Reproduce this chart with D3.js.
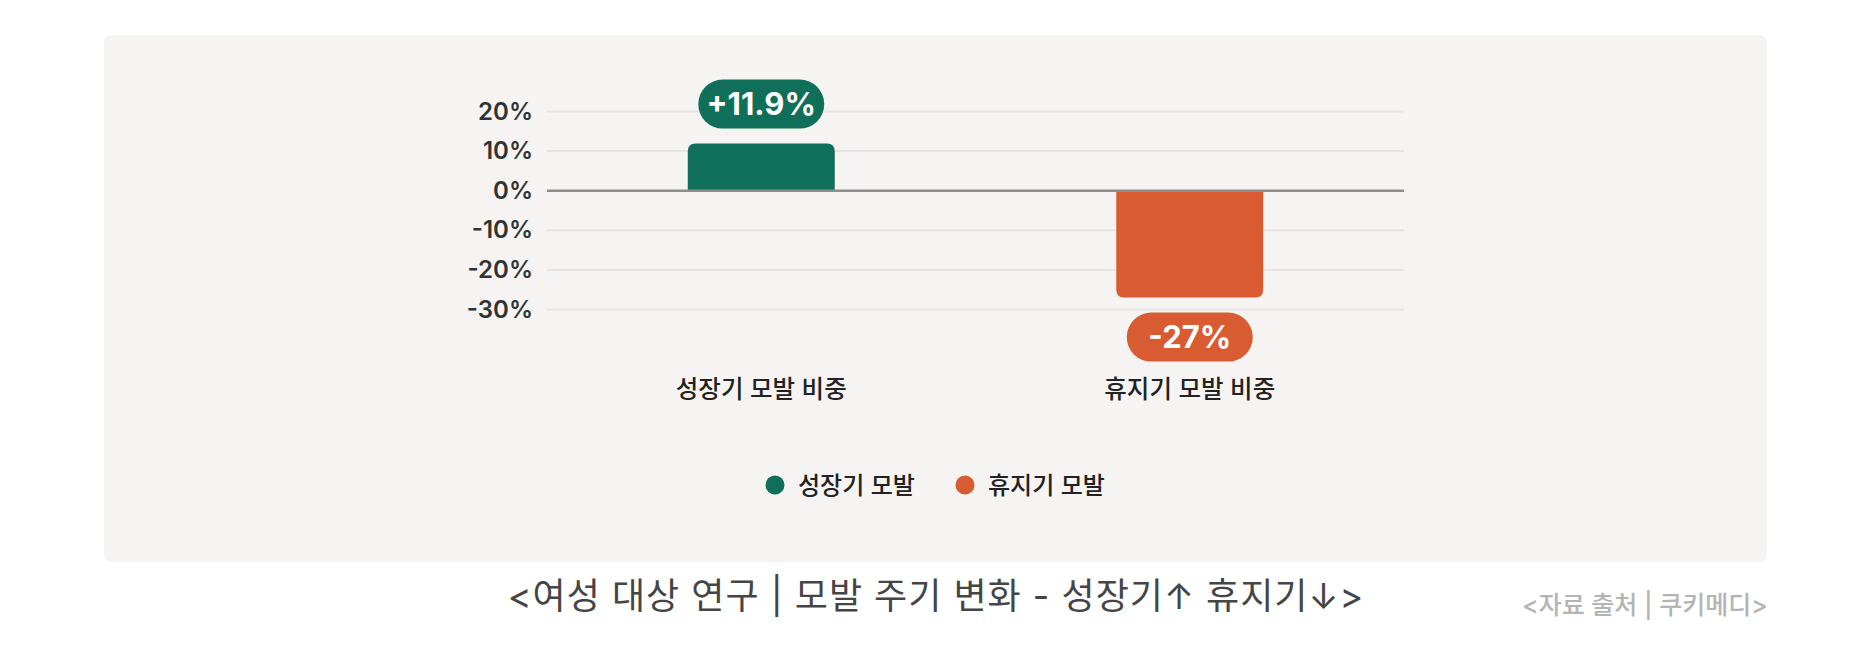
<!DOCTYPE html>
<html>
<head>
<meta charset="utf-8">
<script src="https://cdn.jsdelivr.net/npm/d3@7"></script>
<style>
  body { margin: 0; background: #fff; }
  svg { display: block; font-family: "Inter", "Noto Sans CJK KR", sans-serif; }
</style>
</head>
<body>
<div class="chart"></div>
<script>
// data
const categories = ['성장기 모발 비중', '휴지기 모발 비중'];
const values = [11.9, -27];
const valueLabels = ['+11.9%', '-27%'];
const seriesNames = ['성장기 모발', '휴지기 모발'];
const yTicks = [-30, -20, -10, 0, 10, 20];
const title = '<여성 대상 연구 | 모발 주기 변화 - 성장기↑ 휴지기↓>';
const source = '<자료 출처 | 쿠키메디>';

const W = 1872, H = 671;
const palette = ['#0f6f58', '#d85b31'];

const svg = d3.select('.chart').append('svg')
	.attr('width', W)
	.attr('height', H);

//panel behind the chart
svg.append('rect')
	.attr('x', 104).attr('y', 35)
	.attr('width', 1663).attr('height', 527)
	.attr('rx', 8)
	.style('fill', '#f5f4f2');

const x = d3.scaleBand()
	.domain(categories)
	.range([547, 1404])
	.paddingInner(0.657)
	.paddingOuter(0.3285);

const y = d3.scaleLinear()
	.domain([-30, 20])
	.range([309.5, 111.5]);

const color = d3.scaleOrdinal().domain(categories).range(palette);

//grid
svg.append('g').selectAll('line')
	.data(yTicks.filter(function(d){return d !== 0}))
	.join('line')
	.attr('x1', 547).attr('x2', 1404)
	.attr('y1', function(d){return y(d)})
	.attr('y2', function(d){return y(d)})
	.style('stroke', '#e6e4e1')
	.style('stroke-width', 2);

//y labels
const yAxis = d3.axisLeft(y)
	.tickValues(yTicks)
	.tickFormat(function(d){return d + '%'})
	.tickSize(0)
	.tickPadding(14);
const ya = svg.append('g')
	.attr('transform', 'translate(547,0)')
	.call(yAxis);
ya.select('.domain').remove();
ya.selectAll('text')
	.style('font-family', '"Inter", "Noto Sans CJK KR", sans-serif')
	.style('font-size', '24px')
	.style('font-weight', 600)
	.style('fill', '#333');

//bars, rounded only on the far end
const r = 8;
function barPath(d, i){
	const x0 = x(categories[i]), x1 = x0 + x.bandwidth();
	const y0 = y(0), yv = y(d);
	if (d >= 0) {
		return 'M' + x0 + ',' + y0 + 'V' + (yv + r) + 'Q' + x0 + ',' + yv + ' ' + (x0 + r) + ',' + yv +
			'H' + (x1 - r) + 'Q' + x1 + ',' + yv + ' ' + x1 + ',' + (yv + r) + 'V' + y0 + 'Z';
	}
	return 'M' + x0 + ',' + y0 + 'V' + (yv - r) + 'Q' + x0 + ',' + yv + ' ' + (x0 + r) + ',' + yv +
		'H' + (x1 - r) + 'Q' + x1 + ',' + yv + ' ' + x1 + ',' + (yv - r) + 'V' + y0 + 'Z';
}
svg.append('g').selectAll('path')
	.data(values)
	.join('path')
	.attr('d', barPath)
	.style('fill', function(d, i){return color(categories[i])});

//zero line
svg.append('line')
	.attr('x1', 547).attr('x2', 1404)
	.attr('y1', y(0)).attr('y2', y(0))
	.style('stroke', '#8d8d8d')
	.style('stroke-width', 2.5);

//value pills
const pillW = 126, pillH = 49, gap = 15;
const pills = svg.append('g').selectAll('g')
	.data(values)
	.join('g')
	.attr('transform', function(d, i){
		const cx = x(categories[i]) + x.bandwidth() / 2;
		const cy = d >= 0 ? y(d) - gap - pillH / 2 : y(d) + gap + pillH / 2;
		return 'translate(' + cx + ',' + cy + ')';
	});
pills.append('rect')
	.attr('x', -pillW / 2).attr('y', -pillH / 2)
	.attr('width', pillW).attr('height', pillH)
	.attr('rx', pillH / 2)
	.style('fill', function(d, i){return color(categories[i])});
pills.append('text')
	.attr('text-anchor', 'middle')
	.attr('dy', '0.36em')
	.style('font-size', '31px')
	.style('font-weight', 700)
	.style('fill', '#fff')
	.text(function(d, i){return valueLabels[i]});

//category labels
svg.append('g').selectAll('text')
	.data(categories)
	.join('text')
	.attr('x', function(d){return x(d) + x.bandwidth() / 2})
	.attr('y', 398)
	.attr('text-anchor', 'middle')
	.style('font-size', '24.5px')
	.style('font-weight', 500)
	.style('fill', '#222')
	.text(function(d){return d});

//legend
const legendX = [775, 965];
const leg = svg.append('g').selectAll('g')
	.data(seriesNames)
	.join('g')
	.attr('transform', function(d, i){return 'translate(' + legendX[i] + ',485)'});
leg.append('circle')
	.attr('r', 9.5)
	.style('fill', function(d, i){return palette[i]});
leg.append('text')
	.attr('x', 23)
	.attr('dy', '0.36em')
	.style('font-size', '24px')
	.style('font-weight', 500)
	.style('fill', '#222')
	.text(function(d){return d});

//caption + source
svg.append('text')
	.attr('x', 936).attr('y', 609)
	.attr('text-anchor', 'middle')
	.style('font-size', '36px')
	.style('letter-spacing', '1px')
	.style('fill', '#454545')
	.text(title);
svg.append('text')
	.attr('x', 1768).attr('y', 614)
	.attr('text-anchor', 'end')
	.style('font-size', '25px')
	.style('font-weight', 500)
	.style('fill', '#b4b4b4')
	.text(source);
</script>
</body>
</html>
